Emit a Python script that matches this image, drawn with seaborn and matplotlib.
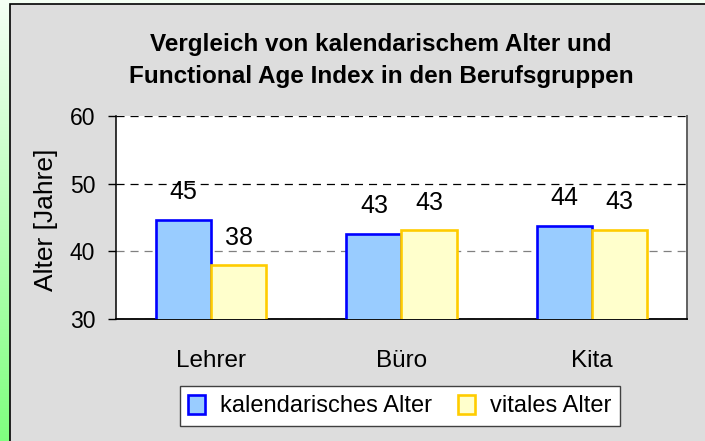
import numpy as np
import pandas as pd
import matplotlib
matplotlib.use("Agg")
import matplotlib.pyplot as plt
from matplotlib.patches import Rectangle
import seaborn as sns

# ---- data ----
categories = ["Lehrer", "Büro", "Kita"]
kalendarisch = [44.7, 42.6, 43.8]
vital = [38.0, 43.1, 43.2]
series_names = ["kalendarisches Alter", "vitales Alter"]
yticks = [30, 40, 50, 60]
title = "Vergleich von kalendarischem Alter und\nFunctional Age Index in den Berufsgruppen"
ylabel = "Alter [Jahre]"

df = pd.DataFrame({
    "Beruf": categories * 2,
    "Alter": kalendarisch + vital,
    "Gruppe": [series_names[0]] * len(categories) + [series_names[1]] * len(categories),
})

plt.rcParams["font.family"] = ["Liberation Sans", "DejaVu Sans"]
plt.rcParams["lines.scale_dashes"] = False

fills = ["#99CCFF", "#FFFFCC"]
edges = ["#0000FF", "#FFCC00"]

fig = plt.figure(figsize=(7.05, 4.41), dpi=100)

# background gradient (green strip on the left)
bg = fig.add_axes([0, 0, 1, 1], zorder=-2)
bg.set_axis_off()
grad = np.linspace(0, 1, 256)[:, None]
top_c = np.array([0.96, 1.0, 0.96])
bot_c = np.array([0.50, 1.0, 0.50])
img = top_c[None, None, :] * (1 - grad[:, :, None]) + bot_c[None, None, :] * grad[:, :, None]
bg.imshow(img, aspect="auto", extent=[0, 1, 0, 1])
bg.set_xlim(0, 1)
bg.set_ylim(0, 1)

# grey panel
panel = Rectangle((10 / 705, -0.05), 1.2, 1.05 - 3.5 / 441,
                  transform=fig.transFigure, facecolor="#DDDDDD",
                  edgecolor="black", linewidth=1.2, zorder=-1)
fig.patches.append(panel)

ax = fig.add_axes([116 / 705, 1 - 319 / 441, (687 - 116) / 705, (319 - 116) / 441], zorder=0)
ax.set_facecolor("white")

sns.barplot(data=df, x="Beruf", y="Alter", hue="Gruppe", hue_order=series_names,
            order=categories, palette=fills, saturation=1, width=0.58, gap=0,
            linewidth=1.9, legend=False, ax=ax, zorder=3)

for cont, ec in zip(ax.containers, edges):
    for p in cont.patches:
        p.set_edgecolor(ec)
        p.set_linewidth(1.9)
    ax.bar_label(cont, fmt="{:.0f}", padding=11, fontsize=18, color="black")

ax.set_ylim(30, 60)
ax.set_yticks(yticks)
ax.set_xlabel("")
ax.set_ylabel(ylabel, fontsize=19)
ax.yaxis.set_label_coords(-0.102, 0.49)

ax.tick_params(axis="y", length=6, width=1, pad=9, labelsize=16.5, color="black")
ax.tick_params(axis="x", length=0, pad=22, labelsize=17.5)

ax.grid(axis="y", linestyle=(0, (5.8, 4.3)), linewidth=0.9, zorder=1)
ax.set_axisbelow(True)
gcols = ["black", "#808080", "black", "black"]
for gl, c in zip(ax.get_ygridlines(), gcols):
    gl.set_color(c)
ax.grid(axis="x", visible=False)

ax.spines["top"].set_visible(False)
ax.spines["left"].set_color("black")
ax.spines["bottom"].set_color("black")
ax.spines["left"].set_linewidth(1.1)
ax.spines["bottom"].set_linewidth(1.3)
ax.spines["right"].set_color("#606060")
ax.spines["right"].set_linewidth(1.4)

handles = [cont.patches[0] for cont in ax.containers]
leg = ax.legend(handles, series_names, loc="center",
                bbox_to_anchor=(400 / 705, 1 - 406 / 441), bbox_transform=fig.transFigure,
                ncol=2, frameon=True, fancybox=False, framealpha=1, edgecolor="#404040",
                fontsize=17, borderpad=0.35, handlelength=0.7, handleheight=0.85,
                handletextpad=0.65, columnspacing=1.1, borderaxespad=0)
leg.get_frame().set_linewidth(1.0)
leg.get_frame().set_facecolor("white")

fig.text(381 / 705, 1 - 60.5 / 441, title, ha="center", va="center",
         fontsize=17.5, fontweight="bold", linespacing=1.5)

fig.savefig("out.png", dpi=100)
